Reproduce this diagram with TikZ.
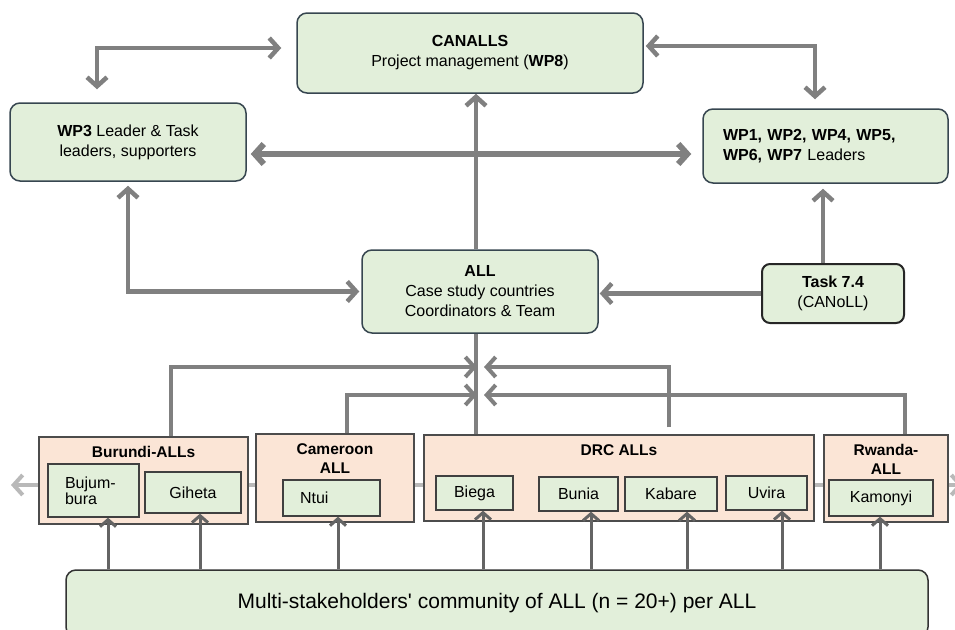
\documentclass[tikz,border=0pt]{standalone}
\usepackage{fontspec}
\setmainfont{Liberation Sans}
\usetikzlibrary{arrows.meta}
\definecolor{gfill}{RGB}{226,239,218}
\definecolor{sfill}{RGB}{251,229,214}
\definecolor{gborder}{RGB}{55,70,80}
\definecolor{conn}{RGB}{128,128,128}
\definecolor{bconn}{RGB}{100,100,100}
\definecolor{busc}{RGB}{185,185,185}
\begin{document}
\begin{tikzpicture}[x=1pt,y=-1pt,
  chev/.tip={Straight Barb[length=9pt,width=20pt]},
  schev/.tip={Straight Barb[length=7pt,width=16pt]},
  mainbox/.style={draw=gborder, line width=1.5pt, fill=gfill, rounded corners=10pt,
    align=center, font=\fontsize{16}{20}\selectfont, inner sep=0pt},
  taskbox/.style={draw=black!85, line width=2pt, fill=gfill, rounded corners=8pt,
    align=center, font=\fontsize{16}{20}\selectfont, inner sep=0pt},
  groupbox/.style={draw=black!70, line width=1.3pt, fill=sfill, inner sep=0pt},
  sitebox/.style={draw=black!75, line width=1.3pt, fill=gfill, inner sep=0pt,
    align=center, font=\fontsize{16}{16}\selectfont},
  grouptitle/.style={font=\bfseries\fontsize{15.5}{19}\selectfont, align=center,
    inner sep=0pt, anchor=north, yshift=-10pt},
  link/.style={draw=conn, line width=4.5pt},
  feed/.style={draw=bconn, line width=3pt, -schev},
  bus/.style={draw=busc, line width=4pt}
]
\useasboundingbox (0,0) rectangle (955,629);

% background bus line
\coordinate (busL) at (11,485);
\coordinate (busR) at (963,485);
\draw[bus, chev-chev] (busL) -- (busR);

% main nodes
\node[mainbox, minimum width=346pt, minimum height=80pt] (canalls) at (470,53)
  {\textbf{CANALLS}\\Project management (\textbf{WP8})};
\node[mainbox, minimum width=236pt, minimum height=78pt] (wp3) at (128,142)
  {\textbf{WP3} Leader \& Task\\leaders, supporters};
\node[mainbox, minimum width=245pt, minimum height=74pt, text width=205pt,
  inner xsep=20pt, align=left] (wp1) at (825.5,146)
  {\textbf{WP1, WP2, WP4, WP5,}\\\textbf{WP6, WP7} Leaders};
\node[mainbox, minimum width=236pt, minimum height=83pt] (all) at (480,291.5)
  {\textbf{ALL}\\Case study countries\\Coordinators \& Team};
\node[taskbox, minimum width=142pt, minimum height=59pt] (task) at (833,293.5)
  {\textbf{Task 7.4}\\(CANoLL)};

% group boxes
\node[groupbox, minimum width=209pt, minimum height=87pt,
  label={[grouptitle]north:Burundi-ALLs}] (burundi) at (143.5,480.5) {};
\node[groupbox, minimum width=158pt, minimum height=88pt,
  label={[grouptitle]north:Cameroon\\ALL}] (cameroon) at (335,478) {};
\node[groupbox, minimum width=390pt, minimum height=86pt,
  label={[grouptitle]north:DRC ALLs}] (drc) at (619,478) {};
\node[groupbox, minimum width=124pt, minimum height=87pt,
  label={[grouptitle]north:Rwanda-\\ALL}] (rwanda) at (886,478.5) {};

% site boxes
\node[sitebox, minimum width=91pt, minimum height=53pt, text width=57pt,
  inner xsep=17pt, align=left] (bujumbura) at (93.5,490.5) {Bujum-\\bura};
\node[sitebox, minimum width=96pt, minimum height=41pt] (giheta) at (193,492.5) {Giheta};
\node[sitebox, minimum width=97pt, minimum height=36pt, text width=63pt,
  inner xsep=17pt, align=left] (ntui) at (331.5,498) {Ntui};
\node[sitebox, minimum width=77pt, minimum height=34pt] (biega) at (474.5,493) {Biega};
\node[sitebox, minimum width=79pt, minimum height=34pt] (bunia) at (578.5,494) {Bunia};
\node[sitebox, minimum width=92pt, minimum height=34pt] (kabare) at (671,494) {Kabare};
\node[sitebox, minimum width=81pt, minimum height=34pt] (uvira) at (766.5,493) {Uvira};
\node[sitebox, minimum width=104pt, minimum height=36pt] (kamonyi) at (881,498) {Kamonyi};

% community box
\node[mainbox, draw=black!80, minimum width=862pt, minimum height=67pt,
  font=\fontsize{21}{24}\selectfont] (multi) at (497,603.5)
  {Multi-stakeholders\textquotesingle{} community of ALL (n = 20+) per ALL};

% top connectors
\draw[link, chev-chev, shorten <=13pt, shorten >=15pt]
  ([xshift=-31pt]wp3.north) |- ([yshift=5pt]canalls.west);
\draw[link, chev-chev, shorten <=2pt, shorten >=9pt]
  ([yshift=7pt]canalls.east) -| ([xshift=-10.5pt]wp1.north);
\draw[link, line width=6pt, chev-chev, shorten <=4pt, shorten >=11pt]
  ([yshift=-12pt]wp3.east) -- ([yshift=-12pt]wp3.east -| wp1.west);
\draw[link, -chev]
  ([xshift=-4pt]all.north) -- ([xshift=-4pt]all.north |- canalls.south);
\draw[link, chev-chev, shorten <=4pt, shorten >=2pt]
  (wp3.south) |- (all.west);
\draw[link, -chev, shorten >=1pt] (task.west) -- (task.west -| all.east);
\draw[link, -chev, shorten >=5pt]
  ([xshift=-10pt]task.north) -- ([xshift=-10pt]task.north |- wp1.south);

% hub from country groups to ALL
\coordinate (hL1) at (477,367);
\coordinate (hR1) at (484,367);
\coordinate (hL2) at (477,395);
\coordinate (hR2) at (484,395);
\draw[link, line width=4pt]
  ([xshift=-4pt]all.south) -- ([xshift=-4pt]all.south |- drc.north);
\draw[link, line width=4pt, -chev] ([xshift=27.5pt]burundi.north) |- (hL1);
\draw[link, line width=4pt, -chev] ([xshift=12pt]cameroon.north) |- (hL2);
\draw[link, line width=4pt, -chev, shorten <=7pt] ([xshift=50pt]drc.north) |- (hR1);
\draw[link, line width=4pt, -chev] ([xshift=19pt]rwanda.north) |- (hR2);

% community feeds
\draw[feed] ([xshift=14.5pt]bujumbura.south |- multi.north) -- ([xshift=14.5pt]bujumbura.south);
\draw[feed] ([xshift=7pt]giheta.south |- multi.north) -- ([xshift=7pt]giheta.south);
\draw[feed] ([xshift=6.5pt]ntui.south |- multi.north) -- ([xshift=6.5pt]ntui.south);
\draw[feed] ([xshift=8.5pt]biega.south |- multi.north) -- ([xshift=8.5pt]biega.south);
\draw[feed] ([xshift=12.5pt]bunia.south |- multi.north) -- ([xshift=12.5pt]bunia.south);
\draw[feed] ([xshift=16pt]kabare.south |- multi.north) -- ([xshift=16pt]kabare.south);
\draw[feed] ([xshift=15.5pt]uvira.south |- multi.north) -- ([xshift=15.5pt]uvira.south);
\draw[feed] ([xshift=-1pt]kamonyi.south |- multi.north) -- ([xshift=-1pt]kamonyi.south);
\end{tikzpicture}
\end{document}
